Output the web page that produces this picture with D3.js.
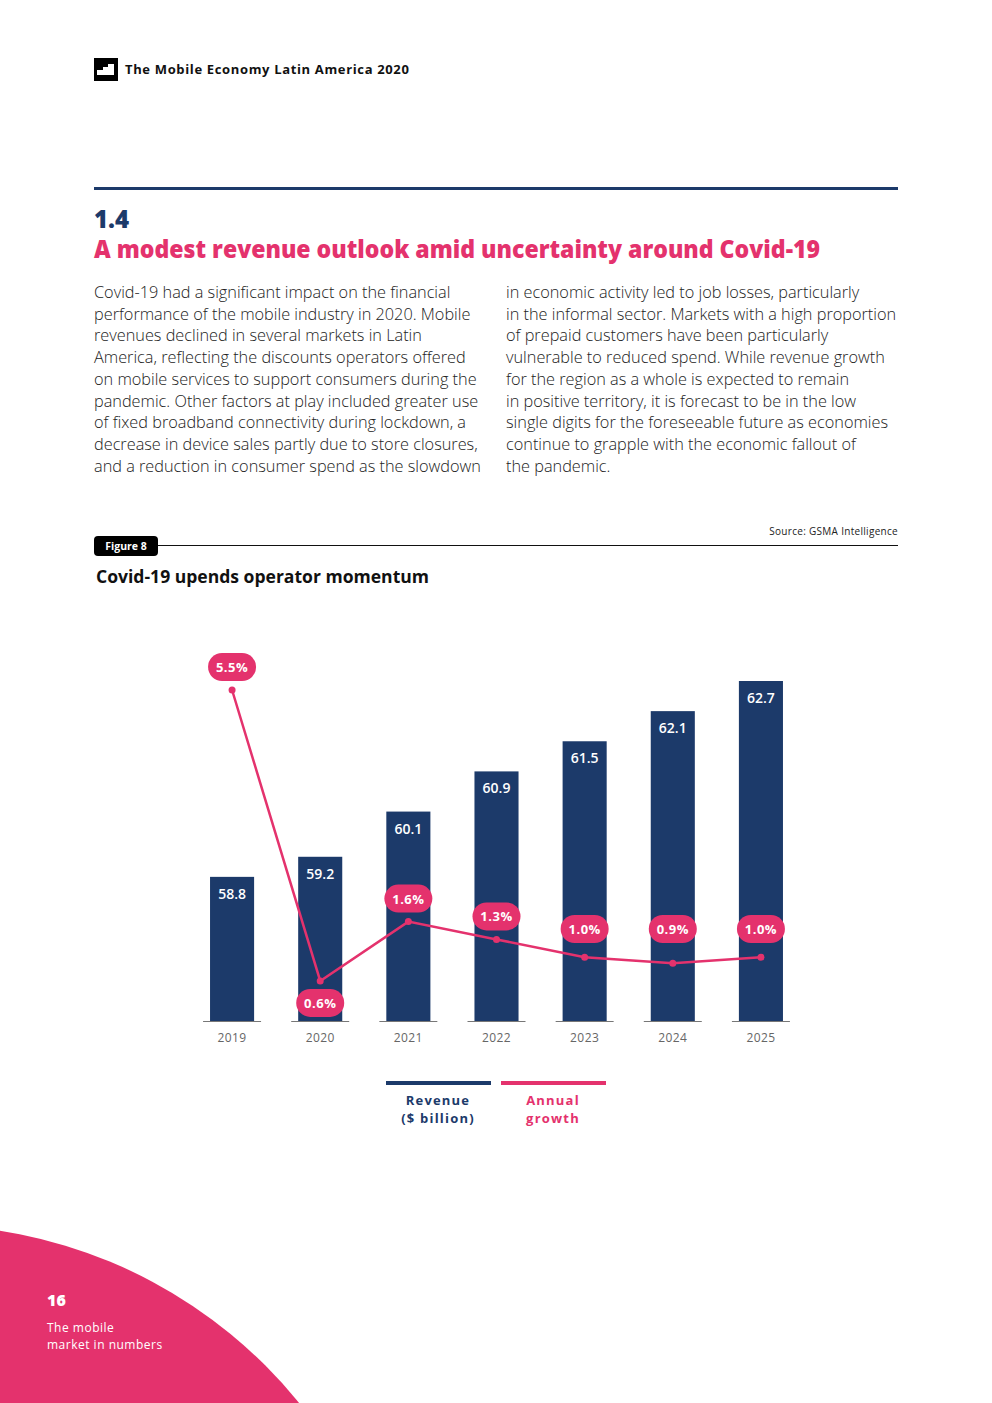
<!DOCTYPE html>
<html>
<head>
<meta charset="utf-8">
<script src="https://cdn.jsdelivr.net/npm/d3@7"></script>
<style>
  body { margin: 0; background: #fff; }
  svg { display: block; }
  text { font-family: "Open Sans", Lato, sans-serif; }
</style>
</head>
<body>
<div id="page"></div>
<script>
// data
var years = ['2019', '2020', '2021', '2022', '2023', '2024', '2025'];
var revenue = [58.8, 59.2, 60.1, 60.9, 61.5, 62.1, 62.7];
var growth = [5.5, 0.6, 1.6, 1.3, 1.0, 0.9, 1.0];
var growthLabels = ['5.5%', '0.6%', '1.6%', '1.3%', '1.0%', '0.9%', '1.0%'];
var legendItems = [['Revenue', '($ billion)'], ['Annual', 'growth']];

var col1 = [
  'Covid-19 had a significant impact on the financial',
  'performance of the mobile industry in 2020. Mobile',
  'revenues declined in several markets in Latin',
  'America, reflecting the discounts operators offered',
  'on mobile services to support consumers during the',
  'pandemic. Other factors at play included greater use',
  'of fixed broadband connectivity during lockdown, a',
  'decrease in device sales partly due to store closures,',
  'and a reduction in consumer spend as the slowdown'
];
var col2 = [
  'in economic activity led to job losses, particularly',
  'in the informal sector. Markets with a high proportion',
  'of prepaid customers have been particularly',
  'vulnerable to reduced spend. While revenue growth',
  'for the region as a whole is expected to remain',
  'in positive territory, it is forecast to be in the low',
  'single digits for the foreseeable future as economies',
  'continue to grapple with the economic fallout of',
  'the pandemic.'
];

var navy = '#1c3a6a';
var pink = '#e4326d';

var svg = d3.select('#page').append('svg')
  .attr('width', 992).attr('height', 1403);

// header
var icon = svg.append('g').attr('transform', 'translate(94,58)');
icon.append('rect').attr('width', 24).attr('height', 23).attr('fill', '#000');
icon.append('path')
  .attr('d', 'M3,17 L3,12 L9,12 L9,9 L14,9 L14,6 L20,6 L20,17 Z')
  .attr('fill', '#fff');
icon.append('path').attr('d', 'M3,19 L21,19').attr('stroke', '#000')
  .attr('stroke-dasharray', '2,2').attr('stroke-width', 1);
svg.append('text').attr('x', 125).attr('y', 74)
  .attr('font-size', 13).attr('font-weight', 700).attr('fill', '#111')
  .attr('font-family', 'Lato, sans-serif').attr('letter-spacing', 0.65)
  .text('The Mobile Economy Latin America 2020');

// section heading
svg.append('rect').attr('x', 94).attr('y', 187).attr('width', 804).attr('height', 3).attr('fill', navy);
svg.append('text').attr('x', 94).attr('y', 228).attr('font-size', 24).attr('font-weight', 800)
  .attr('fill', navy).attr('font-family', 'Lato, sans-serif').text('1.4');
svg.append('text').attr('x', 94).attr('y', 258).attr('font-size', 24).attr('font-weight', 900)
  .attr('fill', pink).attr('font-family', 'Lato, sans-serif')
  .attr('textLength', 726).attr('lengthAdjust', 'spacingAndGlyphs')
  .text('A modest revenue outlook amid uncertainty around Covid-19');

// body text
function para(lines, x) {
  svg.append('g').selectAll('text').data(lines).enter().append('text')
    .attr('x', x)
    .attr('y', function(d, i) { return 298 + i * 21.7; })
    .attr('font-size', 16.3).attr('font-weight', 300).attr('fill', '#222')
    .attr('font-family', 'Lato, sans-serif')
    .text(function(d) { return d; });
}
para(col1, 94);
para(col2, 506);

// figure tag
svg.append('line').attr('x1', 150).attr('x2', 898).attr('y1', 545.5).attr('y2', 545.5)
  .attr('stroke', '#111').attr('stroke-width', 1);
svg.append('rect').attr('x', 94).attr('y', 536).attr('width', 64).attr('height', 20).attr('rx', 4)
  .attr('fill', '#000');
svg.append('text').attr('x', 126).attr('y', 550).attr('text-anchor', 'middle')
  .attr('font-size', 10.5).attr('font-weight', 700).attr('fill', '#fff')
  .attr('font-family', 'Roboto, sans-serif').text('Figure 8');
svg.append('text').attr('x', 898).attr('y', 535).attr('text-anchor', 'end')
  .attr('font-size', 10).attr('fill', '#222').attr('font-family', 'Roboto, sans-serif')
  .attr('letter-spacing', 0.3)
  .text('Source: GSMA Intelligence');
svg.append('text').attr('x', 96).attr('y', 583).attr('font-size', 18).attr('font-weight', 700)
  .attr('fill', '#111').attr('font-family', 'Roboto, sans-serif')
  .attr('textLength', 333).attr('lengthAdjust', 'spacingAndGlyphs')
  .text('Covid-19 upends operator momentum');

// chart
var x = d3.scaleBand().domain(years).range([188, 805]).paddingInner(0.5).paddingOuter(0.25);
var y = d3.scaleLinear().domain([55.93, 62.7]).range([1021, 681]);
var g = d3.scaleLinear().domain([0, 5.5]).range([1016.6, 690]);

var chart = svg.append('g');

// baseline segments
chart.selectAll('.base').data(years).enter().append('line')
  .attr('x1', function(d) { return x(d) + x.bandwidth() / 2 - 29; })
  .attr('x2', function(d) { return x(d) + x.bandwidth() / 2 + 29; })
  .attr('y1', 1021.5).attr('y2', 1021.5)
  .attr('stroke', '#777').attr('stroke-width', 1);

chart.selectAll('.bar').data(revenue).enter().append('rect')
  .attr('x', function(d, i) { return x(years[i]); })
  .attr('y', function(d) { return y(d); })
  .attr('width', x.bandwidth())
  .attr('height', function(d) { return y.range()[0] - y(d); })
  .attr('fill', navy);

chart.selectAll('.barlabel').data(revenue).enter().append('text')
  .attr('x', function(d, i) { return x(years[i]) + x.bandwidth() / 2; })
  .attr('y', function(d) { return y(d) + 22; })
  .attr('text-anchor', 'middle').attr('font-size', 14).attr('font-weight', 600)
  .attr('fill', '#fff')
  .text(function(d) { return d.toFixed(1); });

chart.selectAll('.year').data(years).enter().append('text')
  .attr('x', function(d) { return x(d) + x.bandwidth() / 2; })
  .attr('y', 1042).attr('text-anchor', 'middle').attr('font-size', 12)
  .attr('fill', '#666').attr('font-family', 'Lato, sans-serif')
  .attr('letter-spacing', 0.4)
  .text(function(d) { return d; });

// growth line
var cx = function(i) { return x(years[i]) + x.bandwidth() / 2; };
var line = d3.line().x(function(d, i) { return cx(i); }).y(function(d) { return g(d); });
chart.append('path').datum(growth).attr('d', line)
  .attr('fill', 'none').attr('stroke', pink).attr('stroke-width', 2.5);
chart.selectAll('.dot').data(growth).enter().append('circle')
  .attr('cx', function(d, i) { return cx(i); })
  .attr('cy', function(d) { return g(d); })
  .attr('r', 3.5).attr('fill', pink);

// growth pills: above the point, except the dip which sits below it
var pills = chart.selectAll('.pill').data(growth).enter().append('g')
  .attr('transform', function(d, i) {
    var below = i > 0 && growth[i - 1] > d && d < 0.8;
    var py = below ? g(d) + 22 : Math.min(g(d) - 23, 929);
    return 'translate(' + cx(i) + ',' + py + ')';
  });
pills.append('rect').attr('x', -24).attr('y', -14).attr('width', 48).attr('height', 28)
  .attr('rx', 14).attr('fill', pink);
pills.append('text').attr('y', 5).attr('text-anchor', 'middle')
  .attr('font-size', 13).attr('font-weight', 700).attr('fill', '#fff')
  .attr('letter-spacing', 0.5)
  .text(function(d, i) { return growthLabels[i]; });

// legend
var legend = svg.append('g').selectAll('g').data(legendItems).enter().append('g')
  .attr('transform', function(d, i) { return 'translate(' + (386 + i * 115) + ',1081)'; });
legend.append('rect').attr('width', 105).attr('height', 4)
  .attr('fill', function(d, i) { return i ? pink : navy; });
legend.selectAll('text').data(function(d, i) { return d.map(function(t) { return [t, i]; }); })
  .enter().append('text')
  .attr('x', 52).attr('y', function(d, j) { return 24 + j * 18; })
  .attr('text-anchor', 'middle').attr('font-size', 13).attr('font-weight', 700)
  .attr('letter-spacing', 1.2).attr('font-family', 'Lato, sans-serif')
  .attr('fill', function(d) { return d[1] ? pink : navy; })
  .text(function(d) { return d[0]; });

// footer
svg.append('circle').attr('cx', -74).attr('cy', 1705).attr('r', 480).attr('fill', pink);
svg.append('text').attr('x', 47).attr('y', 1306).attr('font-size', 16).attr('font-weight', 800)
  .attr('fill', '#fff').attr('font-family', 'Lato, sans-serif').text('16');
svg.append('text').attr('x', 47).attr('y', 1332).attr('font-size', 12).attr('fill', '#fff')
  .attr('letter-spacing', 0.5).attr('font-family', 'Lato, sans-serif').text('The mobile');
svg.append('text').attr('x', 47).attr('y', 1349).attr('font-size', 12).attr('fill', '#fff')
  .attr('letter-spacing', 0.5).attr('font-family', 'Lato, sans-serif').text('market in numbers');
</script>
</body>
</html>
